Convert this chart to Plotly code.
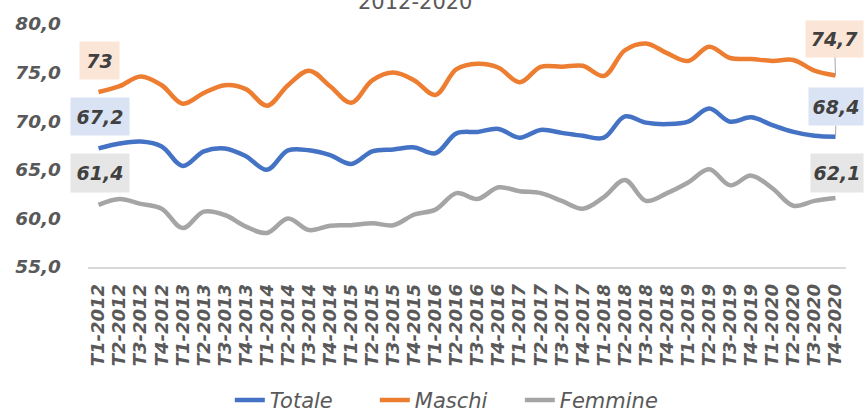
import plotly.graph_objects as go

categories = [f"T{q}-{y}" for y in range(2012, 2021) for q in range(1, 5)]

totale = [67.2, 67.7, 67.9, 67.4, 65.4, 66.9, 67.2, 66.4, 65.0, 67.0, 67.0, 66.5,
          65.6, 66.9, 67.1, 67.3, 66.7, 68.75, 68.9, 69.2, 68.3, 69.1, 68.8, 68.5,
          68.3, 70.5, 69.85, 69.7, 69.95, 71.3, 69.95, 70.4, 69.6, 68.9, 68.5, 68.4]

maschi = [73.0, 73.6, 74.6, 73.7, 71.8, 72.9, 73.7, 73.3, 71.6, 73.7, 75.2, 73.6,
          71.9, 74.2, 75.0, 74.2, 72.7, 75.35, 75.9, 75.5, 74.0, 75.6, 75.6, 75.7,
          74.65, 77.3, 78.0, 77.0, 76.2, 77.65, 76.5, 76.4, 76.2, 76.3, 75.2, 74.7]

femmine = [61.4, 62.0, 61.5, 61.0, 59.0, 60.7, 60.35, 59.15, 58.5, 60.0, 58.8, 59.25,
           59.3, 59.5, 59.3, 60.4, 60.9, 62.6, 62.0, 63.2, 62.8, 62.6, 61.8, 61.0,
           62.2, 63.95, 61.8, 62.6, 63.7, 65.05, 63.4, 64.4, 63.1, 61.3, 61.8, 62.1]

series_names = ["Totale", "Maschi", "Femmine"]
series_colors = ["#4472C4", "#ED7D31", "#A5A5A5"]
label_bg = ["#DAE3F3", "#FBE5D6", "#E7E6E6"]

y_ticks = [55, 60, 65, 70, 75, 80]
y_ticktext = [f"{v:.1f}".replace(".", ",") for v in y_ticks]

title_text = "2012-2020"


def fmt(v):
    return f"{v:g}".replace(".", ",")


fig = go.Figure()
for name, vals, col in zip(series_names, [totale, maschi, femmine], series_colors):
    fig.add_trace(go.Scatter(
        x=categories, y=vals, name=name, mode="lines",
        line=dict(color=col, width=4.5, shape="spline", smoothing=1.0),
    ))

lab_font = dict(family="DejaVu Sans", size=19, color="#404040", weight="bold", style="italic")

# first-point labels (no leader)
first_specs = [
    (totale, label_bg[0], 58, 37, 32),
    (maschi, label_bg[1], 39, 37, 31.5),
    (femmine, label_bg[2], 58, 38, 32),
]
for vals, bg, w, h, ys in first_specs:
    fig.add_annotation(
        x=categories[0], y=vals[0], xref="x", yref="y", text=fmt(vals[0]),
        showarrow=False, yshift=ys, xshift=1, width=w, height=h,
        bgcolor=bg, borderpad=0, font=lab_font,
    )

# last-point labels
fig.add_annotation(
    x=categories[-1], y=maschi[-1], xref="x", yref="y", text=fmt(maschi[-1]),
    showarrow=True, arrowhead=0, arrowwidth=1, arrowcolor="#A6A6A6",
    ax=-1, ay=-36.5, width=57, height=36, bgcolor=label_bg[1], borderpad=0, font=lab_font,
)
fig.add_annotation(
    x=categories[-1], y=totale[-1], xref="x", yref="y", text=fmt(totale[-1]),
    showarrow=True, arrowhead=0, arrowwidth=1, arrowcolor="#A6A6A6",
    ax=1, ay=-30, width=54, height=37, bgcolor=label_bg[0], borderpad=0, font=lab_font,
)
fig.add_annotation(
    x=categories[-1], y=femmine[-1], xref="x", yref="y", text=fmt(femmine[-1]),
    showarrow=False, yshift=25, xshift=2, width=52, height=38,
    bgcolor=label_bg[2], borderpad=0, font=lab_font,
)

# title (partially cut at top as in the reference)
fig.add_annotation(
    x=0.431, y=1.0905, xref="paper", yref="paper", text=title_text, showarrow=False,
    xanchor="center", yanchor="middle",
    font=dict(family="DejaVu Sans", size=21, color="#595959"),
)

fig.update_layout(
    width=864, height=412,
    margin=dict(l=88, r=18, t=24, b=145),
    paper_bgcolor="white", plot_bgcolor="white",
    showlegend=True,
    legend=dict(
        orientation="h", xref="container", yref="container",
        x=0.266, xanchor="left", y=0.028, yanchor="middle",
        font=dict(family="DejaVu Sans", size=21, color="#595959", style="italic"),
        itemwidth=30, tracegroupgap=0, entrywidth=100,
    ),
    xaxis=dict(
        type="category", range=[-0.5, 35.5], showgrid=False,
        showline=True, linecolor="#D9D9D9", linewidth=1.5,
        tickmode="array", tickvals=categories, ticktext=categories,
        tickangle=-90, ticks="", ticklabelstandoff=8,
        tickfont=dict(family="DejaVu Sans", size=18, color="#595959", weight="bold", style="italic"),
    ),
    yaxis=dict(
        range=[55, 80], tickvals=y_ticks, ticktext=y_ticktext,
        showgrid=False, zeroline=False, showline=False, ticks="",
        ticklabelstandoff=26,
        tickfont=dict(family="DejaVu Sans", size=18.5, color="#595959", weight="bold", style="italic"),
    ),
)

fig.write_html("out.html", config={"displayModeBar": False},
               post_script="document.body.style.margin='0';")
